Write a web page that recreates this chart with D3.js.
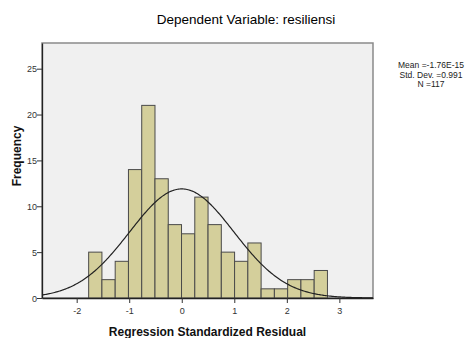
<!DOCTYPE html>
<html>
<head>
<meta charset="utf-8">
<script src="https://cdn.jsdelivr.net/npm/d3@7"></script>
<style>
  body { margin: 0; background: #fff; }
  text { font-family: "Liberation Sans", Arial, sans-serif; }
</style>
</head>
<body>
<svg id="chart" width="465" height="338"></svg>
<script>
// bins of the residual histogram
const binStart = -1.772;
const binWidth = 0.2525;
const counts = [5, 2, 4, 14, 21, 13, 8, 7, 11, 8, 5, 4, 6, 1, 1, 2, 2, 3];
const xTicks = [-2, -1, 0, 1, 2, 3];
const yTicks = [0, 5, 10, 15, 20, 25];
const stats = {mean: -1.76e-15, sd: 0.991, n: 117};
const statLines = ["Mean =-1.76E-15", "Std. Dev. =0.991", "N =117"];

const svg = d3.select("#chart");
const m = {left: 42, top: 43, right: 373, bottom: 298};

const x = d3.scaleLinear().domain([-2.66, 3.64]).range([m.left, m.right]);
const y = d3.scaleLinear().domain([0, 27.8]).range([m.bottom, m.top]);

// plot background
svg.append("rect")
    .attr("x", m.left).attr("y", m.top)
    .attr("width", m.right - m.left).attr("height", m.bottom - m.top)
    .attr("fill", "#f0f0f0")
    .attr("stroke", "#8a8a8a")
    .attr("stroke-width", 1.5);

// bars
let bins = counts.map((c, i) => ({x0: binStart + i * binWidth, x1: binStart + (i + 1) * binWidth, c: c}));
svg.append("g").selectAll("rect")
    .data(bins)
    .join("rect")
    .attr("x", d => x(d.x0))
    .attr("y", d => y(d.c))
    .attr("width", d => x(d.x1) - x(d.x0))
    .attr("height", d => y(0) - y(d.c))
    .attr("fill", "#d4cf9b")
    .attr("stroke", "#4a4a4a")
    .attr("stroke-width", 1);

// fitted normal curve from mean, sd and n
let pts = d3.range(-2.66, 3.641, 0.02).map(v => {
    let z = (v - stats.mean) / stats.sd;
    return [v, stats.n * binWidth * Math.exp(-z * z / 2) / (stats.sd * Math.sqrt(2 * Math.PI))];
});
svg.append("path")
    .datum(pts)
    .attr("d", d3.line().x(d => x(d[0])).y(d => y(d[1])))
    .attr("fill", "none")
    .attr("stroke", "#222")
    .attr("stroke-width", 1.2);

// axes (plain hyphen for negatives, like the original)
let fmt = d => String(d);
let xAxis = svg.append("g")
    .attr("transform", "translate(0," + m.bottom + ")")
    .call(d3.axisBottom(x).tickValues(xTicks).tickFormat(fmt).tickSize(5).tickSizeOuter(0));
let yAxis = svg.append("g")
    .attr("transform", "translate(" + m.left + ",0)")
    .call(d3.axisLeft(y).tickValues(yTicks).tickFormat(fmt).tickSize(5).tickSizeOuter(0));
[xAxis, yAxis].forEach(a => {
    a.select(".domain").attr("stroke", "#222").attr("stroke-width", 1.3);
    a.selectAll(".tick line").attr("stroke", "#333");
    a.selectAll(".tick text")
        .attr("fill", "#333")
        .style("font-size", "9px")
        .style("font-family", "'Liberation Sans', Arial, sans-serif");
});
xAxis.selectAll(".tick text").attr("dy", "0.9em");
yAxis.selectAll(".tick text").attr("x", -5).attr("dy", "0.35em");

// titles
svg.append("text")
    .attr("x", 246).attr("y", 24)
    .attr("text-anchor", "middle")
    .style("font-size", "13.5px")
    .attr("fill", "#000")
    .text("Dependent Variable: resiliensi");

svg.append("text")
    .attr("x", (m.left + m.right) / 2).attr("y", 336)
    .attr("text-anchor", "middle")
    .style("font-size", "12px")
    .style("font-weight", "bold")
    .attr("fill", "#111")
    .text("Regression Standardized Residual");

svg.append("text")
    .attr("transform", "translate(21,156) rotate(-90)")
    .attr("text-anchor", "middle")
    .style("font-size", "12px")
    .style("font-weight", "bold")
    .attr("fill", "#111")
    .text("Frequency");

// stats box text
svg.append("g").selectAll("text")
    .data(statLines)
    .join("text")
    .attr("x", 431)
    .attr("y", (d, i) => 68 + i * 9.5)
    .attr("text-anchor", "middle")
    .style("font-size", "8.5px")
    .attr("fill", "#222")
    .text(d => d);
</script>
</body>
</html>
